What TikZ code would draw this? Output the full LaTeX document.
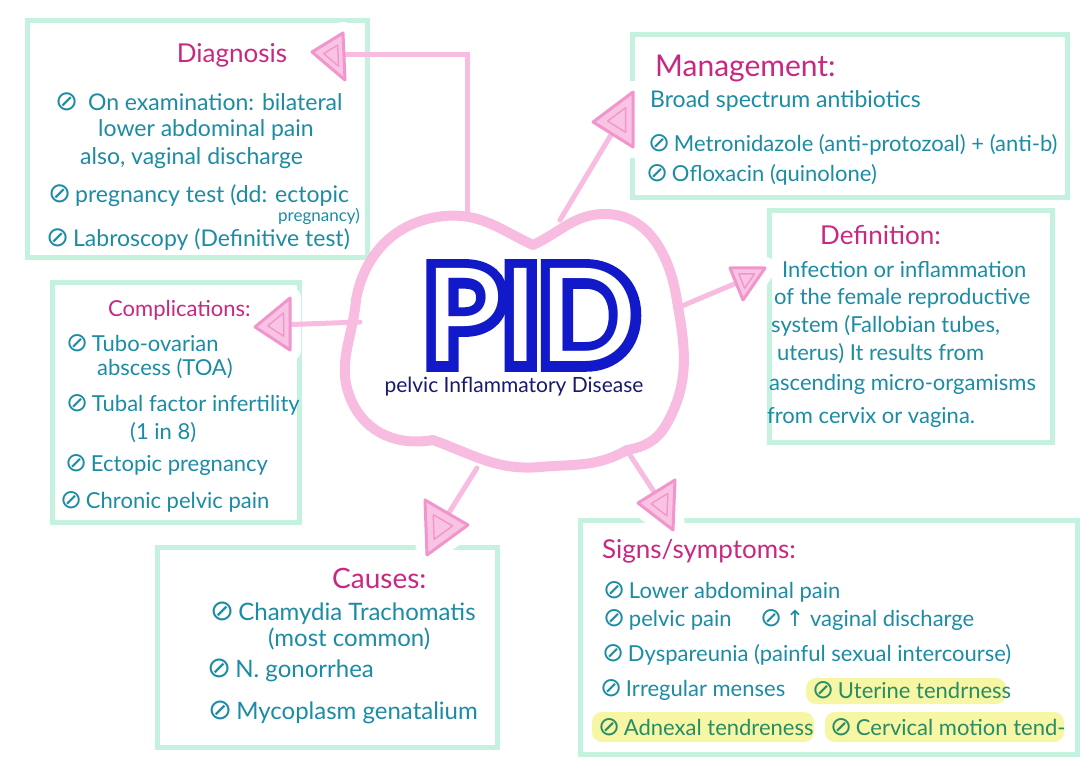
\documentclass[tikz,border=0pt]{standalone}
\usepackage{fontspec}
\setmainfont{Lato}
\newfontfamily\symf{DejaVu Sans}
\newfontfamily\pidfontB{Lato}[FakeBold=15]
\newfontfamily\pidfontW{Lato}
\usetikzlibrary{arrows.meta,calc}
\definecolor{mint}{RGB}{196,242,222}
\definecolor{pinkl}{RGB}{248,188,224}
\definecolor{pinkf}{RGB}{249,196,228}
\definecolor{pinkd}{RGB}{240,150,205}
\definecolor{ttlc}{RGB}{200,40,130}
\definecolor{tealt}{RGB}{28,140,165}
\definecolor{greent}{RGB}{40,140,100}
\definecolor{pidblue}{RGB}{18,25,200}
\definecolor{navy}{RGB}{25,25,110}
\definecolor{hl}{RGB}{246,246,165}
\newcommand\bul{{\symf\scalebox{1.2}{⊘}}\,}
\newcommand\pinktri[3]{%
  \draw[tri] #1 -- #2 -- #3 -- cycle;
  \coordinate (G) at ($1/3*#1+1/3*#2+1/3*#3$);
  \draw[pinkd,line width=1.4pt,line join=round]
    ($(G)!0.45!#1$) -- ($(G)!0.45!#2$) -- ($(G)!0.45!#3$) -- cycle;}
\begin{document}
\begin{tikzpicture}[x=1pt,y=-1pt,
  boxline/.style={draw=mint,line width=5pt,line cap=round},
  ttl/.style={text=ttlc,font=\fontsize{26}{30}\selectfont,inner sep=0pt,anchor=west},
  txt/.style={text=tealt,font=\fontsize{22}{26}\selectfont,inner sep=0pt,anchor=west},
  conn/.style={draw=pinkl,line width=5pt,line cap=round},
  tri/.style={fill=pinkf,draw=pinkd,line width=3pt,line join=round},
  halo/.style={draw=white,fill=white,line width=22pt,line join=round},
  hlbox/.style={fill=hl,rounded corners=10pt}]
\useasboundingbox[fill=white] (0,0) rectangle (1080,762);

% ---------- boxes ----------
\node[boxline,minimum width=340pt,minimum height=237pt,anchor=north west] (dgbox) at (25,18) {};
\node[boxline,minimum width=435pt,minimum height=163pt,anchor=north west] (mgbox) at (630,32) {};
\node[boxline,minimum width=283pt,minimum height=232pt,anchor=north west] (dfbox) at (767,208) {};
\node[boxline,minimum width=247pt,minimum height=240pt,anchor=north west] (cmbox) at (50,280) {};
\node[boxline,minimum width=340pt,minimum height=200pt,anchor=north west] (cabox) at (155,545) {};
\node[boxline,minimum width=497pt,minimum height=234pt,anchor=north west] (sgbox) at (578,518) {};

% ---------- cloud ----------
\draw[pinkl,line width=10pt,line join=round]
  (356,300) to[out=80,in=185] (445,216) to[out=5,in=155] (533,245)
  to[out=25,in=180] (605,214) to[out=0,in=100] (676,295)
  to[out=-80,in=60] (666,425) to[out=-120,in=10] (627,450)
  to[out=-150,in=5] (540,467) to[out=185,in=-20] (433,440)
  to[out=-170,in=-65] (352,402) to[out=115,in=-95] (356,300) -- cycle;

% cloud attachment points
\coordinate (cD) at (467,218);
\coordinate (cM) at (560,220);
\coordinate (cF) at (682,306);
\coordinate (cC) at (360,322);
\coordinate (cA) at (477,468);
\coordinate (cS) at (628,452);

% triangle centres
\coordinate (tD) at (333,55);
\coordinate (tM) at (620,120);
\coordinate (tF) at (746,279);
\coordinate (tC) at (278,325);
\coordinate (tA) at (440,527);
\coordinate (tS) at (662,504);

% ---------- halos (gaps in the box lines) ----------
\path[halo] (312,52) -- (343,33) -- (345,80) -- cycle;
\path[halo] (593,122) -- (633,92) -- (633,147) -- cycle;
\path[halo] (730,268) -- (765,268) -- (743,300) -- cycle;
\path[halo] (255,327) -- (290,298) -- (290,350) -- cycle;
\path[halo] (425,500) -- (468,525) -- (427,555) -- cycle;
\path[halo] (638,503) -- (675,480) -- (673,530) -- cycle;

% ---------- connectors ----------
\draw[conn] (cD) |- (tD);
\draw[conn] (cM) -- (tM);
\draw[conn] (cF) -- (tF);
\draw[conn] (cC) -- (tC);
\draw[conn] (cA) -- (tA);
\draw[conn] (cS) -- (tS);

% ---------- triangles ----------
\pinktri{(312,52)}{(343,33)}{(345,80)}
\pinktri{(593,122)}{(633,92)}{(633,147)}
\pinktri{(730,268)}{(765,268)}{(743,300)}
\pinktri{(255,327)}{(290,298)}{(290,350)}
\pinktri{(425,500)}{(468,525)}{(427,555)}
\pinktri{(638,503)}{(675,480)}{(673,530)}

% ---------- PID ----------
\node[inner sep=0pt,anchor=base,text depth=0pt,font=\fontsize{130}{130}\selectfont] (pid) at (531,362)
  {\rlap{\pidfontB\color{pidblue}PID}{\pidfontW\color{white}PID}};
\node[inner sep=0pt,text=navy,font=\fontsize{21}{24}\selectfont] (pidsub) at (514,387) {pelvic Inflammatory Disease};

% ---------- Diagnosis ----------
\node[ttl,anchor=center] (dgT) at (232,55) {Diagnosis};
\node[txt,font=\fontsize{23}{27}\selectfont] (dg1) at (55,102) {\bul\ On examination: bilateral};
\node[txt,font=\fontsize{23}{27}\selectfont] (dg2) at (98,130) {lower abdominal pain};
\node[txt,font=\fontsize{23}{27}\selectfont] (dg3) at (80,158) {also, vaginal discharge};
\node[txt,font=\fontsize{23}{27}\selectfont] (dg4) at (48,196) {\bul pregnancy test (dd: ectopic};
\node[txt,anchor=east,font=\fontsize{17}{19}\selectfont] (dg5) at (360,216) {pregnancy)};
\node[txt,font=\fontsize{23}{27}\selectfont] (dg6) at (46,240) {\bul Labroscopy (Definitive test)};

% ---------- Management ----------
\node[ttl,font=\fontsize{30}{34}\selectfont] (mgT) at (655,68) {Management:};
\node[txt,font=\fontsize{23}{27}\selectfont] (mg1) at (650,101) {Broad spectrum antibiotics};
\node[txt] (mg2) at (648,145) {\bul Metronidazole (anti-protozoal) + (anti-b)};
\node[txt] (mg3) at (646,175) {\bul Ofloxacin (quinolone)};

% ---------- Definition ----------
\node[ttl] (dfT) at (820,235) {Definition:};
\node[txt] (df1) at (782,270) {Infection or inflammation};
\node[txt] (df2) at (774,298) {of the female reproductive};
\node[txt] (df3) at (771,326) {system (Fallobian tubes,};
\node[txt] (df4) at (777,354) {uterus) It results from};
\node[txt] (df5) at (769,384) {ascending micro-orgamisms};
\node[txt] (df6) at (767,417) {from cervix or vagina.};

% ---------- Complications ----------
\node[ttl,font=\fontsize{22}{26}\selectfont] (cmT) at (108,310) {Complications:};
\node[txt] (cm1) at (66,343) {\bul Tubo-ovarian};
\node[txt] (cm2) at (97,369) {abscess (TOA)};
\node[txt] (cm3) at (66,405) {\bul Tubal factor infertility};
\node[txt] (cm4) at (130,433) {(1 in 8)};
\node[txt] (cm5) at (65,465) {\bul Ectopic pregnancy};
\node[txt] (cm6) at (60,502) {\bul Chronic pelvic pain};

% ---------- Causes ----------
\node[ttl,font=\fontsize{28}{32}\selectfont] (caT) at (332,578) {Causes:};
\node[txt,font=\fontsize{24}{28}\selectfont] (ca1) at (210,613) {\bul Chamydia Trachomatis};
\node[txt,font=\fontsize{24}{28}\selectfont] (ca2) at (268,639) {(most common)};
\node[txt,font=\fontsize{24}{28}\selectfont] (ca3) at (207,670) {\bul N. gonorrhea};
\node[txt,font=\fontsize{24}{28}\selectfont] (ca4) at (208,712) {\bul Mycoplasm genatalium};

% ---------- Signs / symptoms ----------
\fill[hlbox] (806,678) rectangle (1006,704);
\fill[hlbox] (592,712) rectangle (814,742);
\fill[hlbox] (825,712) rectangle (1064,742);
\node[ttl] (sgT) at (602,551) {Signs/symptoms:};
\node[txt] (sg1) at (603,592) {\bul Lower abdominal pain};
\node[txt] (sg2) at (603,620) {\bul pelvic pain};
\node[txt] (sg3) at (760,620) {\bul{\symf ↑} vaginal discharge};
\node[txt] (sg4) at (602,655) {\bul Dyspareunia (painful sexual intercourse)};
\node[txt] (sg5) at (600,690) {\bul Irregular menses};
\node[txt,text=greent] (sg6) at (812,690) {\bul Uterine tendrness};
\node[txt,text=greent] (sg7) at (598,727) {\bul Adnexal tendreness};
\node[txt,text=greent] (sg8) at (830,727) {\bul Cervical motion tend-};
\end{tikzpicture}
\end{document}
